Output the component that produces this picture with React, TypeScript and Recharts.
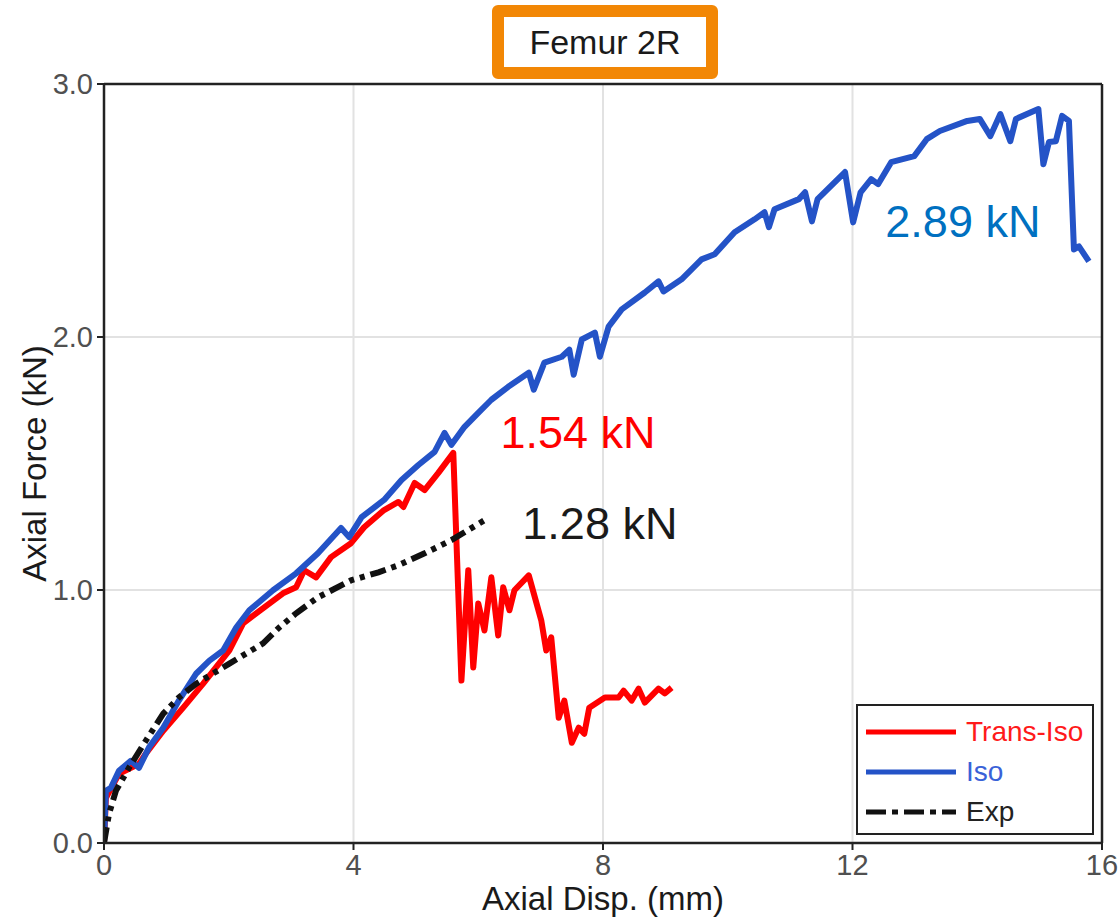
import {
  LineChart,
  Line,
  XAxis,
  YAxis,
  CartesianGrid,
  ReferenceLine,
  ReferenceDot,
  Legend,
} from "recharts";

const FONT = "'Liberation Sans', Arial, sans-serif";

const xTicks = [0, 4, 8, 12, 16];
const yTicks = [0, 1, 2, 3];

const transDisp = [
  0, 0.03, 0.24, 0.56, 0.67, 0.95, 1.27, 1.59, 2.01, 2.23, 2.44, 2.87, 3.08, 3.21,
  3.4, 3.64, 3.96, 4.17, 4.49, 4.72, 4.8, 4.98, 5.14, 5.36, 5.6, 5.73, 5.84, 5.92,
  6.0, 6.1, 6.21, 6.32, 6.4, 6.5, 6.58, 6.81, 7.01, 7.09, 7.17, 7.29, 7.38, 7.5,
  7.61, 7.7, 7.78, 8.03, 8.25, 8.33, 8.46, 8.57, 8.67, 8.89, 8.99, 9.1,
];
const transForce = [
  0, 0.178, 0.273, 0.313, 0.353, 0.444, 0.535, 0.63, 0.761, 0.868, 0.908, 0.987,
  1.011, 1.078, 1.05, 1.13, 1.185, 1.248, 1.316, 1.348, 1.328, 1.423, 1.395, 1.463,
  1.542, 0.642, 1.078, 0.694, 0.947, 0.84, 1.05, 0.82, 1.011, 0.92, 0.999, 1.058,
  0.88, 0.761, 0.813, 0.495, 0.563, 0.396, 0.456, 0.432, 0.535, 0.575, 0.575,
  0.602, 0.563, 0.61, 0.555, 0.61, 0.591, 0.614,
];

const isoDisp = [
  0, 0.03, 0.11, 0.24, 0.43, 0.56, 0.72, 0.95, 1.2, 1.48, 1.69, 1.91, 2.12, 2.33,
  2.71, 3.08, 3.43, 3.8, 3.93, 4.13, 4.49, 4.77, 5.04, 5.3, 5.46, 5.57, 5.78, 6.0,
  6.21, 6.48, 6.81, 6.89, 7.06, 7.34, 7.46, 7.53, 7.66, 7.87, 7.95, 8.09, 8.3,
  8.67, 8.89, 8.97, 9.26, 9.58, 9.79, 10.11, 10.43, 10.59, 10.66, 10.75, 11.14,
  11.24, 11.35, 11.44, 11.88, 12.01, 12.13, 12.3, 12.41, 12.62, 12.99, 13.19,
  13.4, 13.84, 14.04, 14.21, 14.37, 14.53, 14.62, 14.98, 15.06, 15.15, 15.26,
  15.36, 15.47, 15.55, 15.63, 15.79,
];
const isoForce = [
  0, 0.206, 0.218, 0.285, 0.325, 0.297, 0.377, 0.456, 0.563, 0.67, 0.721, 0.761,
  0.852, 0.92, 0.999, 1.066, 1.145, 1.245, 1.209, 1.288, 1.356, 1.435, 1.494,
  1.546, 1.621, 1.574, 1.645, 1.7, 1.752, 1.803, 1.859, 1.792, 1.899, 1.922, 1.95,
  1.851, 1.99, 2.017, 1.922, 2.041, 2.109, 2.176, 2.22, 2.18, 2.228, 2.307, 2.327,
  2.414, 2.465, 2.493, 2.434, 2.505, 2.545, 2.572, 2.457, 2.545, 2.652, 2.453,
  2.572, 2.624, 2.604, 2.691, 2.715, 2.782, 2.814, 2.854, 2.862, 2.794, 2.881,
  2.774, 2.862, 2.901, 2.683, 2.771, 2.774, 2.874, 2.854, 2.346, 2.358, 2.299,
];

const expDisp = [
  0, 0.08, 0.19, 0.4, 0.67, 0.95, 1.2, 1.48, 1.75, 2.01, 2.28, 2.55, 2.81, 3.08,
  3.43, 3.96, 4.4, 4.72, 5.14, 5.57, 6.1,
];
const expForce = [
  0, 0.115, 0.206, 0.297, 0.404, 0.511, 0.575, 0.63, 0.67, 0.709, 0.749, 0.789,
  0.852, 0.908, 0.971, 1.038, 1.07, 1.098, 1.145, 1.197, 1.276,
];

// peak value callouts (x, y = where the text is centred)
const peakLabels = [
  { text: "2.89 kN", x: 13.77, y: 2.458, color: "#0070C0" },
  { text: "1.54 kN", x: 7.6, y: 1.625, color: "#FF0000" },
  { text: "1.28 kN", x: 7.95, y: 1.265, color: "#1a1a1a" },
];

const legendItems = [
  { name: "Trans-Iso", color: "#FF0000", text: "#FF1a1a", dash: undefined },
  { name: "Iso", color: "#2453C7", text: "#3a62d8", dash: undefined },
  { name: "Exp", color: "#111111", text: "#222222", dash: "20 6 6 6" },
];

function toPoints(xs: number[], ys: number[]) {
  return xs.map((x, i) => ({ x, y: ys[i] }));
}

const transData = toPoints(transDisp, transForce);
const isoData = toPoints(isoDisp, isoForce);
const expData = toPoints(expDisp, expForce);

function LegendBox() {
  return (
    <div
      style={{
        border: "2.5px solid #222",
        background: "#fff",
        padding: "6px 8px 6px 8px",
        fontFamily: FONT,
        boxSizing: "border-box",
        width: 238,
        height: 131,
      }}
    >
      {legendItems.map((it) => (
        <div
          key={it.name}
          style={{ display: "flex", alignItems: "center", height: 40 }}
        >
          <svg width={94} height={10} style={{ marginRight: 6 }}>
            <line
              x1={0}
              y1={5}
              x2={90}
              y2={5}
              stroke={it.color}
              strokeWidth={5}
              strokeDasharray={it.dash}
            />
          </svg>
          <span style={{ color: it.text, fontSize: 28, lineHeight: "28px" }}>
            {it.name}
          </span>
        </div>
      ))}
    </div>
  );
}

export default function App() {
  const tickStyle = { fontSize: 29, fill: "#505050", fontFamily: FONT };
  return (
    <div
      style={{
        position: "absolute",
        left: 0,
        top: 0,
        width: 1120,
        height: 922,
        background: "#fff",
      }}
    >
      <div
        style={{
          position: "absolute",
          left: 492,
          top: 5,
          width: 226,
          height: 74,
          border: "12px solid #F28705",
          borderRadius: 6,
          boxSizing: "border-box",
          background: "#fff",
          display: "flex",
          alignItems: "center",
          justifyContent: "center",
          fontFamily: FONT,
          fontSize: 34,
          color: "#1a1a1a",
          zIndex: 2,
        }}
      >
        Femur 2R
      </div>
      <LineChart
        width={1120}
        height={922}
        margin={{ top: 84, right: 18, bottom: 0, left: 0 }}
      >
        <CartesianGrid stroke="#e2e2e2" strokeWidth={2} />
        <XAxis
          type="number"
          dataKey="x"
          domain={[0, 16]}
          ticks={xTicks}
          allowDataOverflow
          height={79}
          tick={tickStyle}
          tickSize={7}
          tickMargin={4}
          axisLine={{ stroke: "#222", strokeWidth: 2.5 }}
          tickLine={{ stroke: "#222", strokeWidth: 2 }}
          label={{
            value: "Axial Disp. (mm)",
            position: "insideBottom",
            offset: 12,
            style: { fontSize: 33, fill: "#1a1a1a", fontFamily: FONT },
          }}
        />
        <YAxis
          type="number"
          domain={[0, 3]}
          ticks={yTicks}
          allowDataOverflow
          width={104}
          tick={tickStyle}
          tickFormatter={(v: number) => v.toFixed(1)}
          tickSize={7}
          tickMargin={4}
          axisLine={{ stroke: "#222", strokeWidth: 2.5 }}
          tickLine={{ stroke: "#222", strokeWidth: 2 }}
          label={{
            value: "Axial Force (kN)",
            angle: -90,
            position: "insideLeft",
            offset: 34,
            style: {
              fontSize: 33,
              fill: "#1a1a1a",
              fontFamily: FONT,
              textAnchor: "middle",
            },
          }}
        />
        <ReferenceLine y={3} stroke="#222" strokeWidth={2.5} />
        <ReferenceLine x={16} stroke="#222" strokeWidth={2.5} />
        <Line
          data={transData}
          dataKey="y"
          name="Trans-Iso"
          type="linear"
          stroke="#FF0000"
          strokeWidth={6}
          strokeLinejoin="round"
          dot={false}
          isAnimationActive={false}
        />
        <Line
          data={isoData}
          dataKey="y"
          name="Iso"
          type="linear"
          stroke="#2453C7"
          strokeWidth={6}
          strokeLinejoin="round"
          dot={false}
          isAnimationActive={false}
        />
        <Line
          data={expData}
          dataKey="y"
          name="Exp"
          type="linear"
          stroke="#111111"
          strokeWidth={6}
          strokeDasharray="16 6 5 6 5 6"
          dot={false}
          isAnimationActive={false}
        />
        {peakLabels.map((p) => (
          <ReferenceDot
            key={p.text}
            x={p.x}
            y={p.y}
            r={0}
            fill="none"
            stroke="none"
            label={{
              value: p.text,
              position: "center",
              fill: p.color,
              fontSize: 45,
              fontFamily: FONT,
            }}
          />
        ))}
        <Legend
          layout="vertical"
          align="center"
          verticalAlign="middle"
          content={() => <LegendBox />}
          wrapperStyle={{ left: 856, top: 704, width: 238, height: 131 }}
        />
      </LineChart>
    </div>
  );
}
